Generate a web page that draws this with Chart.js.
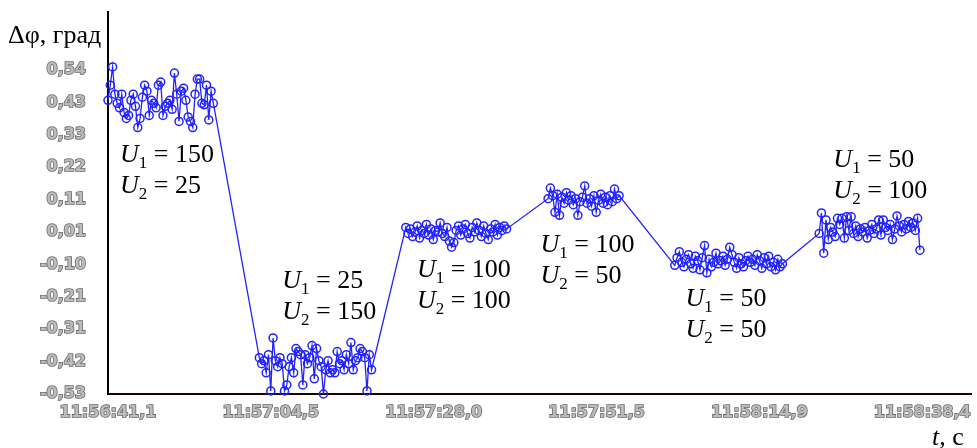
<!DOCTYPE html>
<html>
<head>
<meta charset="utf-8">
<script src="https://cdn.jsdelivr.net/npm/chart.js@4/dist/chart.umd.min.js"></script>
<style>
  html, body { margin: 0; padding: 0; background: #fff; }
  canvas { display: block; }
</style>
</head>
<body>
<canvas id="phaseChart" width="977" height="448"></canvas>
<script>
// tick labels
const xTickLabels = ['11:56:41,1', '11:57:04,5', '11:57:28,0', '11:57:51,5', '11:58:14,9', '11:58:38,4'];
const xTickStep = 23.46;   // seconds between time labels
const yTickLabels = ['-0,53', '-0,42', '-0,31', '-0,21', '-0,10', '0,01', '0,11', '0,22', '0,33', '0,43', '0,54'];
const yMin = -0.53;
const yStep = 0.107;

// samples, seconds from 11:56:41,1
const sampleStep = 0.33;
const segStarts = [0, 21.8, 42.9, 63.4, 81.65, 102.45];

// U1 = 150, U2 = 25
const seg1 = [0.44, 0.49, 0.55, 0.46, 0.43, 0.415, 0.46, 0.40, 0.38, 0.39, 0.44, 0.46, 0.42, 0.35, 0.38, 0.45,
  0.49, 0.47, 0.39, 0.44, 0.43, 0.415, 0.49, 0.50, 0.39, 0.42, 0.43, 0.44, 0.41, 0.53, 0.46, 0.37,
  0.47, 0.48, 0.44, 0.385, 0.37, 0.35, 0.46, 0.51, 0.51, 0.43, 0.425, 0.49, 0.375, 0.47, 0.43];
// U1 = 25, U2 = 150
const seg2 = [-0.41, -0.43, -0.42, -0.46, -0.40, -0.52, -0.345, -0.42, -0.44, -0.41, -0.43, -0.52, -0.50,
  -0.44, -0.41, -0.46, -0.38, -0.39, -0.40, -0.50, -0.40, -0.43, -0.41, -0.37, -0.48, -0.38, -0.42,
  -0.44, -0.53, -0.45, -0.42, -0.46, -0.45, -0.46, -0.39, -0.43, -0.42, -0.45, -0.40, -0.43, -0.36,
  -0.45, -0.42, -0.41, -0.38, -0.39, -0.41, -0.52, -0.40, -0.45];
// U1 = 100, U2 = 100
const seg3 = [0.02, 0.00, 0.015, -0.01, 0.005, 0.025, -0.015, 0.01, 0.00, 0.03, -0.005, 0.015, -0.02, 0.01,
  0.005, 0.035, 0.00, -0.01, 0.02, -0.025, -0.045, -0.03, 0.01, 0.025, -0.005, 0.015, 0.03, 0.00,
  -0.015, 0.02, 0.005, 0.035, 0.01, -0.01, 0.025, 0.00, -0.02, 0.015, 0.005, 0.03, -0.005, 0.02,
  0.01, 0.025, 0.015];
// U1 = 100, U2 = 50
const seg4 = [0.115, 0.15, 0.125, 0.07, 0.13, 0.06, 0.12, 0.10, 0.135, 0.11, 0.125, 0.095, 0.115, 0.06,
  0.105, 0.12, 0.157, 0.10, 0.115, 0.09, 0.125, 0.07, 0.11, 0.13, 0.10, 0.12, 0.095, 0.125, 0.105,
  0.147, 0.115, 0.125];
// U1 = 50, U2 = 50
const seg5 = [-0.105, -0.08, -0.06, -0.095, -0.11, -0.085, -0.07, -0.10, -0.115, -0.075, -0.09, -0.12,
  -0.08, -0.04, -0.13, -0.085, -0.11, -0.095, -0.065, -0.10, -0.09, -0.075, -0.105, -0.085, -0.045,
  -0.07, -0.095, -0.115, -0.08, -0.10, -0.11, -0.09, -0.075, -0.095, -0.085, -0.105, -0.07, -0.09,
  -0.115, -0.08, -0.10, -0.075, -0.11, -0.095, -0.12, -0.085, -0.11, -0.10];
// U1 = 50, U2 = 100
const seg6 = [0.00, 0.068, -0.065, 0.045, -0.02, 0.02, 0.005, -0.01, 0.05, 0.03, 0.05, -0.015, 0.055, 0.01,
  0.055, 0.00, 0.025, -0.01, 0.015, 0.005, 0.02, -0.015, 0.01, 0.03, 0.00, 0.015, 0.045, -0.005,
  0.045, 0.02, 0.01, 0.03, -0.02, 0.015, 0.058, 0.025, 0.005, 0.03, 0.015, 0.04, 0.02, 0.035, 0.01,
  0.05, -0.055];

// voltage notes: [U1, U2] and where the first line sits (t, value)
const regimeU1 = ['150', '25', '100', '100', '50', '50'];
const regimeU2 = ['25', '150', '100', '50', '50', '100'];
const regimeAt = [[1.72, 0.236], [25.1, -0.179], [44.5, -0.143], [62.3, -0.061], [83.2, -0.239], [104.5, 0.220]];

const segments = [seg1, seg2, seg3, seg4, seg5, seg6];
const points = [];
segments.forEach((vals, s) => {
    vals.forEach((v, i) => points.push({ x: segStarts[s] + i * sampleStep, y: v }));
});

const serif = '"Liberation Serif", "Times New Roman", serif';

const drawU = (ctx, x, y, idx, val) => {
    ctx.font = 'italic 26px ' + serif;
    ctx.fillText('U', x, y);
    x += ctx.measureText('U').width;
    ctx.font = '17px ' + serif;
    ctx.fillText(idx, x, y + 6);
    x += ctx.measureText(idx).width;
    ctx.font = '26px ' + serif;
    ctx.fillText(' = ' + val, x, y);
};

const textPlugin = {
    id: 'texts',
    afterDraw(chart) {
        const ctx = chart.ctx;
        const xs = chart.scales.x, ys = chart.scales.y;
        ctx.save();
        ctx.fillStyle = '#000';
        ctx.textBaseline = 'alphabetic';
        ctx.textAlign = 'left';
        regimeAt.forEach(([t, v], i) => {
            const px = xs.getPixelForValue(t);
            const py = ys.getPixelForValue(v);
            drawU(ctx, px, py, '1', regimeU1[i]);
            drawU(ctx, px, py + 31, '2', regimeU2[i]);
        });
        // axis titles
        ctx.font = '26px ' + serif;
        ctx.fillText('\u0394\u03c6, град', 8, 43);
        ctx.font = 'italic 26px ' + serif;
        ctx.fillText('t', 932, 445);
        const tw = ctx.measureText('t').width;
        ctx.font = '26px ' + serif;
        ctx.fillText(', с', 932 + tw, 445);
        ctx.restore();
    }
};

const tickFont = { family: '"DejaVu Sans", Verdana, sans-serif', size: 16, weight: 'bold' };

new Chart(document.getElementById('phaseChart'), {
    type: 'line',
    data: {
        datasets: [{
            data: points,
            borderColor: '#2222ff',
            borderWidth: 1.3,
            pointRadius: 4,
            pointBorderWidth: 1.5,
            pointBorderColor: '#2222ff',
            pointBackgroundColor: 'rgba(0,0,0,0)',
            tension: 0,
            clip: 6
        }]
    },
    options: {
        responsive: false,
        animation: false,
        devicePixelRatio: 1,
        layout: { padding: { left: 0, top: 12, right: 2, bottom: 0 } },
        plugins: { legend: { display: false }, tooltip: { enabled: false } },
        scales: {
            x: {
                type: 'linear',
                min: 0,
                max: 124.4,
                grid: { display: false, drawTicks: false },
                border: { display: true, color: '#1a0000', width: 2 },
                afterBuildTicks: (scale) => {
                    scale.ticks = xTickLabels.map((l, i) => ({ value: i * xTickStep }));
                },
                afterFit: (scale) => {
                    scale.height = 54;
                    scale.paddingLeft = 0;
                    scale.paddingRight = 0;
                },
                ticks: {
                    autoSkip: false,
                    maxRotation: 0,
                    padding: 9,
                    font: tickFont,
                    color: '#bcbcbc',
                    textStrokeColor: '#6a6a6a',
                    textStrokeWidth: 1.6,
                    callback: (v, i) => xTickLabels[i]
                }
            },
            y: {
                type: 'linear',
                min: yMin,
                max: 0.7315,
                grid: { display: false, drawTicks: false },
                border: { display: true, color: '#000', width: 2 },
                afterBuildTicks: (scale) => {
                    scale.ticks = yTickLabels.map((l, i) => ({ value: yMin + i * yStep }));
                },
                afterFit: (scale) => {
                    scale.width = 108;
                    scale.paddingTop = 0;
                    scale.paddingBottom = 0;
                },
                ticks: {
                    autoSkip: false,
                    padding: 22,
                    font: tickFont,
                    color: '#bcbcbc',
                    textStrokeColor: '#6a6a6a',
                    textStrokeWidth: 1.6,
                    callback: (v, i) => yTickLabels[i]
                }
            }
        }
    },
    plugins: [textPlugin]
});
</script>
</body>
</html>
